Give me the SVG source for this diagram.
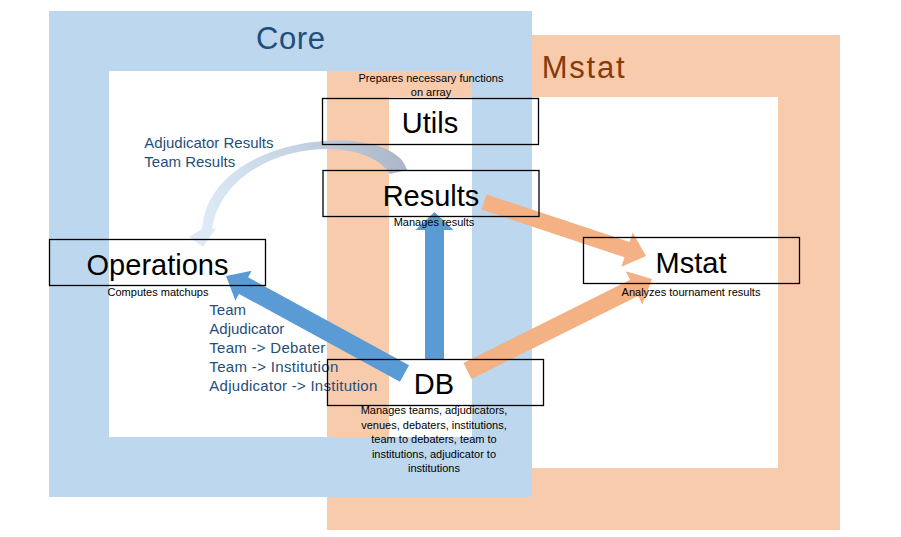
<svg xmlns="http://www.w3.org/2000/svg" width="901" height="537" viewBox="0 0 901 537">
<style>
  text { font-family: "Liberation Sans", Arial, sans-serif; }
  .frame { fill: none; }
  .box { fill: none; stroke: #000; stroke-width: 1.3; }
  .lbl { font-size: 29px; fill: #000; text-anchor: middle; }
  .desc { font-size: 11px; fill: #000; text-anchor: middle; }
  .edge { font-size: 15px; fill: #1f4e79; }
  .blue { fill: #5b9bd5; }
  .orange { fill: #f4b183; }
</style>
<defs>
  <linearGradient id="grayGrad" gradientUnits="userSpaceOnUse" x1="400" y1="165" x2="205" y2="235">
    <stop offset="0" stop-color="#adb9ca"/>
    <stop offset="0.45" stop-color="#c5d3e3"/>
    <stop offset="1" stop-color="#deebf7"/>
  </linearGradient>
</defs>
<rect width="901" height="537" fill="#fff"/>
<g id="mstat-frame">
  <rect class="frame" x="358" y="66" width="451" height="433" stroke="#f8cbad" stroke-width="62"/>
  <text x="541.7" y="78" font-size="31" fill="#843c0c" textLength="83" lengthAdjust="spacing">Mstat</text>
</g>
<g id="core-frame">
  <rect class="frame" x="79" y="41" width="423" height="426" stroke="#bdd7ee" stroke-width="60"/>
  <text x="256" y="49" font-size="31" fill="#1f4e79" textLength="69" lengthAdjust="spacing">Core</text>
</g>
<g id="connectors">
  <path fill="url(#grayGrad)" d="M 407 170 C 395 120, 210 130, 202 229 L 189 237 L 203 247 L 216 228 L 212 229 C 225 145, 360 128, 390 174 Z"/>
  <polygon class="blue" points="425,359 425,230 415.5,230 434.5,212 453.5,230 444,230 444,359"/>
  <polygon class="blue" points="409.05,365.16 248.10,277.25 251.70,270.67 226,276 235.40,300.51 239.00,293.93 399.95,381.84"/>
  <polygon class="orange" points="486.53,194.41 629.56,242.09 632.72,232.61 646,256 621.34,266.75 624.50,257.27 481.47,209.59"/>
  <polygon class="orange" points="463.48,362.95 630.08,279.87 625.85,271.37 652,279 642.35,304.47 638.12,295.97 471.52,379.05"/>
  <text class="edge" x="144.3" y="148.3">Adjudicator Results</text>
  <text class="edge" x="144.3" y="167.3">Team Results</text>
  <text class="edge" x="209.3" y="315">Team</text>
  <text class="edge" x="209.3" y="334">Adjudicator</text>
  <text class="edge" x="209.3" y="353" textLength="116" lengthAdjust="spacing">Team -&gt; Debater</text>
  <text class="edge" x="209.3" y="372" textLength="129" lengthAdjust="spacing">Team -&gt; Institution</text>
  <text class="edge" x="209.3" y="391" textLength="168" lengthAdjust="spacing">Adjudicator -&gt; Institution</text>
</g>
<g id="utils">
  <rect class="box" x="322.5" y="98.5" width="216" height="46"/>
  <text class="lbl" x="430" y="133">Utils</text>
  <text class="desc" x="431" y="82">Prepares necessary functions</text>
  <text class="desc" x="431" y="95.5">on array</text>
</g>
<g id="results">
  <rect class="box" x="323" y="170.5" width="216" height="46"/>
  <text class="lbl" x="431" y="205.5">Results</text>
  <text class="desc" x="434" y="226">Manages results</text>
</g>
<g id="operations">
  <rect class="box" x="49.5" y="239.5" width="216" height="46"/>
  <text class="lbl" x="157.5" y="274.5">Operations</text>
  <text class="desc" x="158" y="296">Computes matchups</text>
</g>
<g id="mstat">
  <rect class="box" x="583.5" y="237.5" width="216" height="46"/>
  <text class="lbl" x="691" y="272.5">Mstat</text>
  <text class="desc" x="691" y="296">Analyzes tournament results</text>
</g>
<g id="db">
  <rect class="box" x="327.5" y="359.5" width="216" height="46"/>
  <text class="lbl" x="434" y="394">DB</text>
  <text class="desc" x="434" y="414">Manages teams, adjudicators,</text>
  <text class="desc" x="434" y="428.5">venues, debaters, institutions,</text>
  <text class="desc" x="434" y="443">team to debaters, team to</text>
  <text class="desc" x="434" y="457.5">institutions, adjudicator to</text>
  <text class="desc" x="434" y="472">institutions</text>
</g>
</svg>
